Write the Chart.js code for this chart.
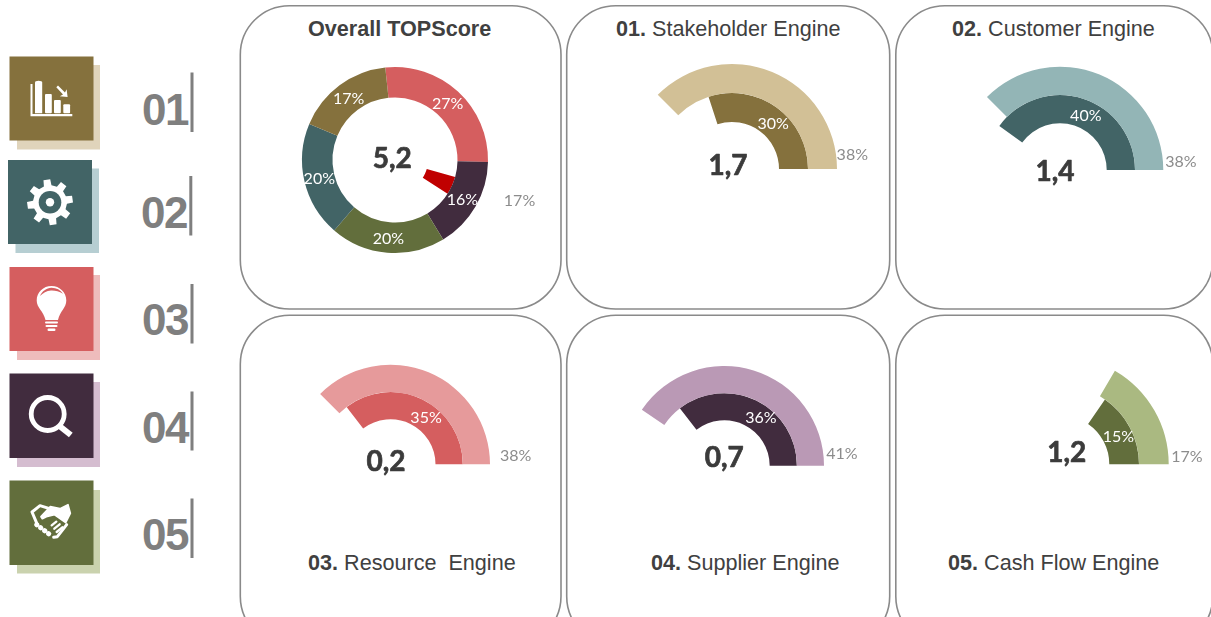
<!DOCTYPE html>
<html><head><meta charset="utf-8">
<script src="https://cdn.jsdelivr.net/npm/chart.js@4/dist/chart.umd.min.js"></script>
<style>
html,body{margin:0;padding:0;background:#fff;overflow:hidden;width:1211px;height:617px}
#stage{position:relative;width:1211px;height:617px;overflow:hidden}
#bg{position:absolute;left:0;top:0}
canvas{position:absolute}
.t{font-family:"Liberation Sans",Arial,sans-serif;font-size:21.6px;fill:#404040}
.b{font-weight:700}
.n{font-family:"Liberation Sans",Arial,sans-serif;font-size:44px;font-weight:700;fill:#7f7f7f;letter-spacing:-1.4px}
</style></head><body>
<div id="stage">
<svg id="bg" width="1211" height="617" viewBox="0 0 1211 617">
 <g fill="none" stroke="#8a8a8a" stroke-width="1.6">
  <rect x="240.3" y="5.7" width="320.7" height="303.3" rx="49"/>
  <rect x="566.7" y="5.7" width="323" height="303.3" rx="49"/>
  <rect x="895.8" y="5.7" width="317" height="303.3" rx="49"/>
  <rect x="240.3" y="315.3" width="320.7" height="330" rx="49"/>
  <rect x="566.7" y="315.3" width="323" height="330" rx="49"/>
  <rect x="895.8" y="315.3" width="317" height="330" rx="49"/>
 </g>
 <!-- icon tiles -->
 <rect x="17" y="65" width="83" height="84.5" fill="#e0d4bb"/><rect x="9.5" y="56.5" width="84" height="84" fill="#85713d"/>
 <rect x="15.5" y="168.5" width="83.5" height="84.5" fill="#b6ced2"/><rect x="8" y="160" width="84" height="84" fill="#426466"/>
 <rect x="17" y="275" width="83" height="85" fill="#eebcbc"/><rect x="9.5" y="267" width="84" height="84" fill="#d55e5f"/>
 <rect x="17" y="382" width="83" height="85" fill="#d5bdd0"/><rect x="9.5" y="373.5" width="84" height="84.5" fill="#412c3e"/>
 <rect x="17" y="490" width="83" height="83.5" fill="#cad2ae"/><rect x="9.5" y="480.5" width="84" height="84.5" fill="#626e3c"/>
 <!-- chart icon -->
 <g fill="#fff">
  <path d="M30.5 84h2v30h39.800v2.200H30.500z"/>
  <path d="M35 82.500q0-1.800 3.600-1.800t3.600 1.800V113.300H35z"/>
  <rect x="45" y="94" width="6.800" height="19.300" rx="1"/>
  <rect x="54" y="100" width="6.800" height="13.300" rx="1"/>
  <rect x="63.300" y="104.300" width="6.800" height="9" rx="1"/>
  <path d="M58 85.500l7 7 1.600-3.300 1 7.800-7.800-.8 3.200-1.800-6.700-7.200z"/>
 </g>
 <!-- gear -->
 <g>
  <path id="gear" fill="#fff"/>
  <circle cx="50" cy="202.300" r="11.300" fill="#426466"/>
  <circle cx="50" cy="202.300" r="4.200" fill="#fff"/>
 </g>
 <!-- bulb -->
 <g fill="#fff">
  <path d="M51.500 286c8.200 0 14.800 6.400 14.800 14.400 0 7.400-6.300 10.500-8.300 19.600H45.500c-2-9.100-8.800-12.200-8.800-19.600C36.700 292.400 43.300 286 51.500 286z"/>
  <rect x="45" y="321.500" width="13" height="2" rx="1"/><rect x="45.500" y="325" width="12" height="2" rx="1"/><rect x="47.500" y="328.500" width="8" height="2.500" rx="1.200"/>
  <path d="M40 296c2-5 6.500-8 11.500-8.300 5 0 9 2 11.500 6-4-2.500-8-3.500-12-3.300-4.500.3-8 2.300-11 5.600z" fill="#d55e5f"/>
 </g>
 <!-- magnifier -->
 <g fill="none" stroke="#fff">
  <circle cx="47.700" cy="414" r="16.500" stroke-width="4.800"/>
  <path d="M59.500 426l11.300 9" stroke-width="6"/>
 </g>
 <!-- handshake -->
 <g transform="translate(25,500) scale(.33333)" fill="none" stroke="#fff" stroke-linecap="round" stroke-linejoin="round">
  <path d="M74 26L45 17 21 36 37 74" stroke-width="9"/>
  <path d="M48 50L76 20 105 26 129 14 136 40 122 68 88 44 64 50 52 56Z" fill="#fff" stroke-width="5"/>
  <path d="M35 74L80 108" stroke-width="15" stroke-dasharray="0.5 14.500"/>
  <path d="M86 112L97 110 125 74" stroke-width="9"/>
  <path d="M88 86l16-13M95 96l17-14M80 76l14-11" stroke-width="7"/>
 </g>
 <!-- numbers -->
 <text class="n" x="142" y="125">01</text><rect x="190.500" y="72.500" width="3" height="59.500" fill="#7f7f7f"/>
 <text class="n" x="141" y="228">02</text><rect x="189.300" y="176" width="3" height="59.500" fill="#7f7f7f"/>
 <text class="n" x="142" y="335">03</text><rect x="190.500" y="284" width="3" height="59.500" fill="#7f7f7f"/>
 <text class="n" x="142" y="443">04</text><rect x="190.500" y="391.500" width="3" height="59" fill="#7f7f7f"/>
 <text class="n" x="142" y="550">05</text><rect x="190.500" y="498.500" width="3" height="59.500" fill="#7f7f7f"/>
 <!-- titles -->
 <text class="t b" x="308" y="36">Overall TOPScore</text>
 <text class="t" x="616" y="36" id="t1"></text>
 <text class="t" x="952" y="36" id="t2"></text>
 <text class="t" x="308" y="570" id="t3"></text>
 <text class="t" x="651" y="570" id="t4"></text>
 <text class="t" x="948" y="570" id="t5"></text>
</svg>
</div>
<script>
// ---- data ----
const engineNumbers = ['01.', '02.', '03.', '04.', '05.'];
const engineNames = ['Stakeholder Engine', 'Customer Engine', 'Resource  Engine', 'Supplier Engine', 'Cash Flow Engine'];
const engineScores = ['1,7', '1,4', '0,2', '0,7', '1,2'];
const outerValues = [37.5, 37.5, 37.5, 40.5, 16.6];
const innerValues = [30, 40, 35.4, 35.5, 15.4];
const overallCategories = ['03 Resource', '04 Supplier', '05 Cash Flow', '02 Customer', '01 Stakeholder'];
const overallValues = [27, 16, 20, 20, 17];
const overallScore = '5,2';
const overallExtraLabel = '17%';
const needleStart = 29.4;
const needleWidth = 4.7;

// ---- styles and layout ----
const outerColors = ['#d2c096', '#93b5b6', '#e69a9b', '#ba99b5', '#aab981'];
const innerColors = ['#85713d', '#426466', '#d55e5f', '#412c3e', '#626e3c'];
const overallColors = ['#d55e5f', '#412c3e', '#626e3c', '#426466', '#85713d'];
const gaugeGeom = [
  {cx:732,  cy:169,   R:105,   r:47,   score:[-4,-3], inner:[5,5],     outer:[15.3,-13.7]},
  {cx:1060, cy:170,   R:103.3, r:46.7, score:[-5,2],  inner:[7,4],     outer:[17.7,-8.3]},
  {cx:390.5,cy:464.3, R:99.5,  r:45,   score:[-4.5,-2],inner:[9.6,6.5],outer:[25.7,-8.6]},
  {cx:724.3,cy:465.7, R:99.7,  r:45.4, score:[0,-8],  inner:[10.7,4.8],outer:[18,-11.4]},
  {cx:1060.3,cy:464.3,R:108.4, r:49,   score:[6.4,-11.6],inner:[1.5,2.4],outer:[18.3,-7.3]}
];
const clear = 'rgba(0,0,0,0)';
const PCT = '16px Lato, sans-serif';
const SCORE = '700 28px Lato, sans-serif';

// gear icon outline
(function(){
  const cx=50, cy=202.3, teeth=8, root=17, tip=23, rootHalf=13*Math.PI/180, tipHalf=8.5*Math.PI/180, off=-8*Math.PI/180;
  let d='';
  for(let i=0;i<teeth;i++){
    const a=off-Math.PI/2+i*2*Math.PI/teeth;
    [[root,-rootHalf],[tip,-tipHalf],[tip,tipHalf],[root,rootHalf]].forEach(([r,da])=>{
      d+=(d?'L':'M')+(cx+r*Math.cos(a+da)).toFixed(2)+' '+(cy+r*Math.sin(a+da)).toFixed(2);
    });
  }
  document.getElementById('gear').setAttribute('d',d+'Z');
})();

engineNumbers.forEach((n,i)=>{
  const el = document.getElementById('t'+(i+1));
  el.style.whiteSpace='pre';
  const b = document.createElementNS('http://www.w3.org/2000/svg','tspan');
  b.setAttribute('font-weight','700'); b.textContent = n;
  el.appendChild(b);
  el.appendChild(document.createTextNode(' '+engineNames[i]));
});

// draws percentage labels and the central score through the chart's own arcs
const labelPlugin = {
  id:'labelPlugin',
  afterDatasetsDraw(chart, args, o){
    const c = chart.ctx;
    c.save(); c.textAlign='center'; c.textBaseline='middle';
    (o.items||[]).forEach(it=>{
      const arc = chart.getDatasetMeta(it.ds).data[it.idx];
      const p = it.anchor==='end'
        ? {x:arc.x+arc.outerRadius*Math.cos(arc.endAngle), y:arc.y+arc.outerRadius*Math.sin(arc.endAngle)}
        : it.anchor==='hub' ? {x:arc.x,y:arc.y} : arc.getCenterPoint();
      const x=p.x+(it.dx||0), y=p.y+(it.dy||0);
      c.font = it.font || PCT;
      c.fillStyle = it.color;
      if(it.font){ c.strokeStyle=it.color; c.lineWidth=0.7; c.lineJoin='round'; c.strokeText(it.text,x,y); }
      c.fillText(it.text, x, y);
    });
    c.restore();
  }
};

function mount(cx, cy, R, config){
  const pad = 110, half = Math.ceil(R)+pad;
  const cv = document.createElement('canvas');
  const left = Math.floor(cx)-half, top = Math.floor(cy)-half;
  cv.width = cv.height = half*2;
  cv.style.left = left+'px'; cv.style.top = top+'px';
  cv.style.width = cv.style.height = (half*2)+'px';
  document.getElementById('stage').appendChild(cv);
  const fx = cx-Math.floor(cx), fy = cy-Math.floor(cy), e = half-R;
  config.options = Object.assign({
    responsive:false, animation:false, events:[], devicePixelRatio:1,
    layout:{padding:{left:e+fx, right:e-fx, top:e+fy, bottom:e-fy}}
  }, config.options);
  config.plugins = [labelPlugin];
  return new Chart(cv, config);
}

// overall doughnut with its needle ring
(function(){
  const R=93, r1=62.5, r0=33;
  const items = overallValues.map((v,i)=>({ds:0, idx:i, text:v+'%', color:'#fff', dy:1}));
  items.push({ds:1, idx:1, text:overallExtraLabel, color:'#8c8c8c', dx:81, dy:21});
  items.push({ds:1, idx:1, anchor:'hub', text:overallScore, color:'#3b3b3b', font:SCORE, dx:-2.7, dy:-0.7});
  mount(395,160,R,{
    type:'doughnut',
    data:{labels:overallCategories, datasets:[
      {data:overallValues, backgroundColor:overallColors, borderWidth:0, weight:R-r1, rotation:-6},
      {data:[needleStart, needleWidth, 100-needleStart-needleWidth], backgroundColor:[clear,'#c00000',clear], borderWidth:0, weight:r1-r0, rotation:0}
    ]},
    options:{cutout:r0, plugins:{legend:{display:false},tooltip:{enabled:false},labelPlugin:{items}}}
  });
})();

// engine gauges: both arcs end at three o'clock
engineNames.forEach((name,i)=>{
  const g = gaugeGeom[i];
  const items = [
    {ds:0, idx:1, anchor:'end', text:Math.round(outerValues[i])+'%', color:'#8c8c8c', dx:g.outer[0], dy:g.outer[1]},
    {ds:1, idx:1, text:Math.round(innerValues[i])+'%', color:'#fff', dx:g.inner[0], dy:g.inner[1]},
    {ds:1, idx:1, anchor:'hub', text:engineScores[i], color:'#3b3b3b', font:SCORE, dx:g.score[0], dy:g.score[1]}
  ];
  mount(g.cx,g.cy,g.R,{
    type:'doughnut',
    data:{labels:['rest',name], datasets:[
      {data:[100-outerValues[i], outerValues[i]], backgroundColor:[clear,outerColors[i]], borderWidth:0},
      {data:[100-innerValues[i], innerValues[i]], backgroundColor:[clear,innerColors[i]], borderWidth:0}
    ]},
    options:{rotation:90, cutout:g.r, plugins:{legend:{display:false},tooltip:{enabled:false},labelPlugin:{items}}}
  });
});
</script>
</body></html>
